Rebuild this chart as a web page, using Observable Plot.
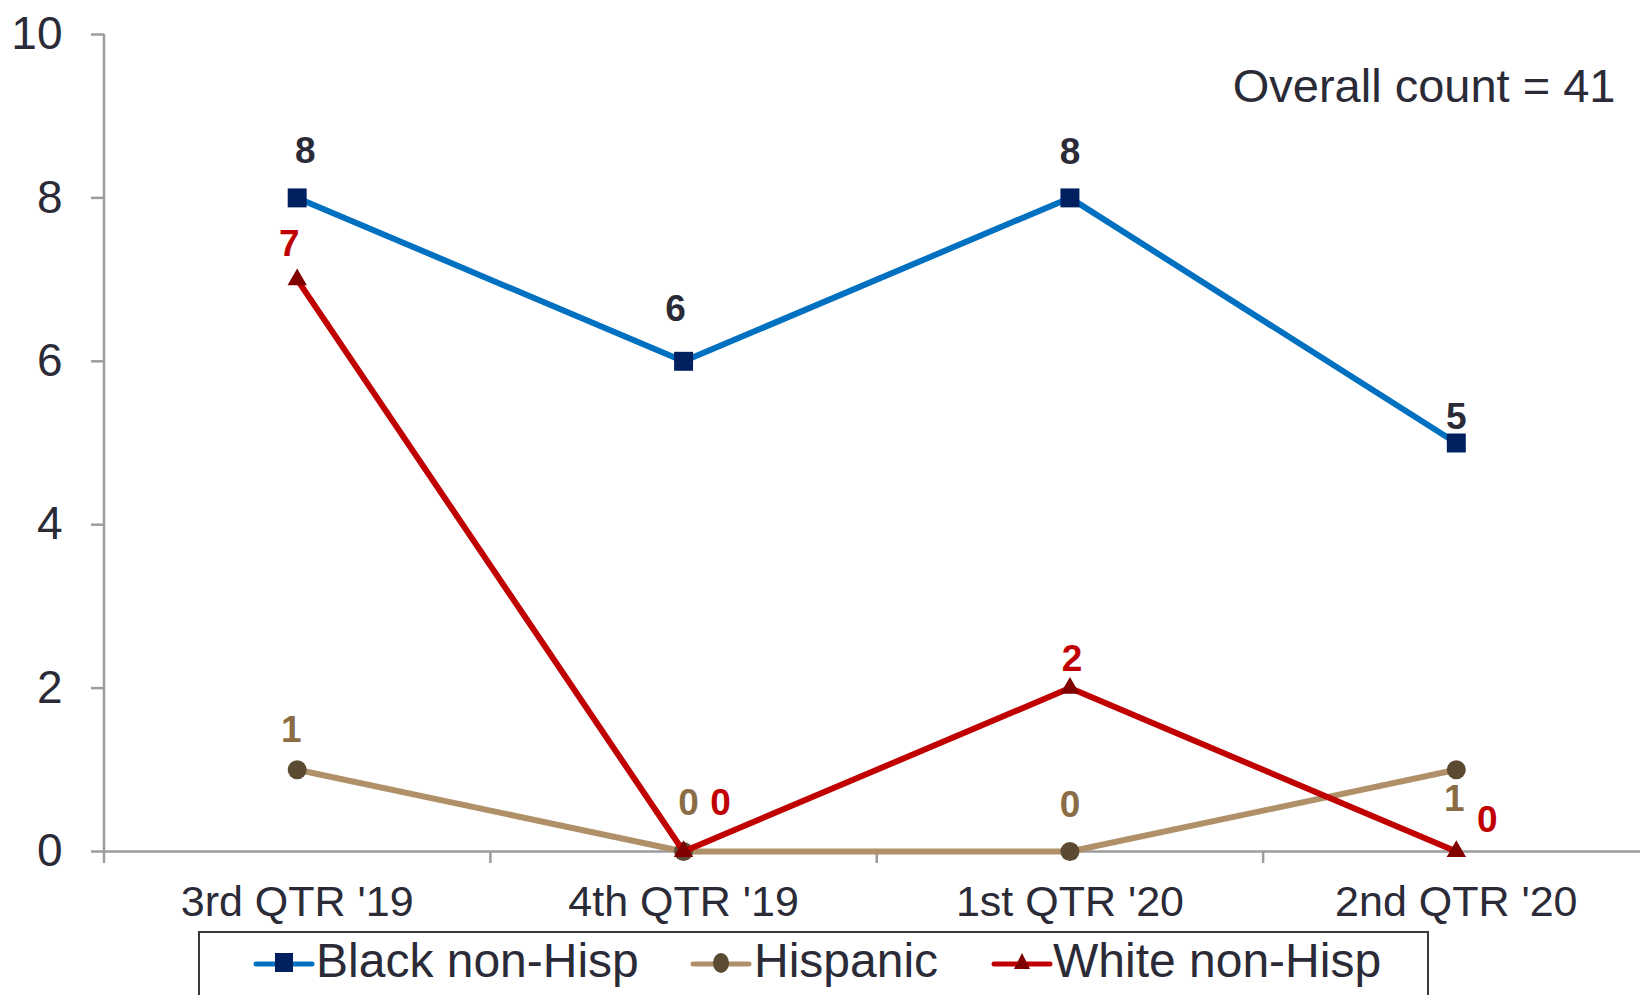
<!DOCTYPE html>
<html>
<head>
<meta charset="utf-8">
<script src="https://cdn.jsdelivr.net/npm/d3@7"></script>
<script src="https://cdn.jsdelivr.net/npm/@observablehq/plot@0.6"></script>
<style>
  html, body { margin: 0; padding: 0; background: #fff; overflow: hidden; width: 1640px; height: 995px; }
  #wrap { position: relative; width: 1640px; height: 995px; font-family: "Liberation Sans", Arial, sans-serif; }
  #legend { position: absolute; left: 198px; top: 931px; width: 1231px; height: 80px; border: 2px solid #3a3a3a; border-bottom: none; box-sizing: border-box; }
  #legend svg { position: absolute; left: 0; top: 0; }
</style>
</head>
<body>
<div id="wrap"><div id="chart"></div><div id="legend"></div></div>
<script>
// ---- data ----
const quarters = ["3rd QTR '19", "4th QTR '19", "1st QTR '20", "2nd QTR '20"];
const seriesNames = ["Black non-Hisp", "Hispanic", "White non-Hisp"];
const blackValues = [8, 6, 8, 5];
const hispanicValues = [1, 0, 0, 1];
const whiteValues = [7, 0, 2, 0];
const yTicks = [0, 2, 4, 6, 8, 10];
const overallNote = "Overall count = 41";

// ---- styles ----
const textColor = "#2b2b38";
const axisGray = "#9c9c9c";
const lineWidth = 6;
const styles = {
  "Black non-Hisp": {line: "#0070c0", marker: "#002060", label: "#2b2b38", symbol: "square", r: 10.7,
    offsets: [[8, -47], [-8, -52], [0, -46], [0, -26]]},
  "Hispanic": {line: "#b09068", marker: "#5c4b33", label: "#8b6d45", symbol: "circle", r: 9.5,
    offsets: [[-6, -40], [5, -48], [0, -46], [-2, 29]]},
  "White non-Hisp": {line: "#c00000", marker: "#800000", label: "#c00000", symbol: "triangle", r: 7.2,
    offsets: [[-8, -35], [37, -48], [2, -29], [31, -31]]}
};

const valuesBySeries = {
  "Black non-Hisp": blackValues,
  "Hispanic": hispanicValues,
  "White non-Hisp": whiteValues
};

const rows = seriesNames.flatMap(s => valuesBySeries[s].map((v, i) => ({series: s, i, quarter: quarters[i], value: v})));

const marks = [];
// axes
marks.push(Plot.ruleY([0], {stroke: axisGray, strokeWidth: 2.5}));
marks.push(Plot.ruleX([-0.5], {y1: 0, y2: 10, stroke: axisGray, strokeWidth: 2.5}));
marks.push(Plot.axisY({ticks: yTicks, tickSize: 13, tickPadding: 29, fontSize: 46, stroke: axisGray, strokeWidth: 2.5, fill: textColor, label: null}));
marks.push(Plot.axisX({ticks: [-0.5, 0.5, 1.5, 2.5], tickSize: 12, tickFormat: () => "", stroke: axisGray, strokeWidth: 2.5, label: null}));
marks.push(Plot.axisX({ticks: quarters.map((q, i) => i), tickSize: 0, tickPadding: 34, tickFormat: i => quarters[i], fontSize: 43, fill: textColor, label: null}));

// series
for (const s of seriesNames) {
  const st = styles[s];
  const data = rows.filter(d => d.series === s);
  marks.push(Plot.line(data, {x: "i", y: "value", stroke: st.line, strokeWidth: lineWidth}));
  marks.push(Plot.dot(data, {x: "i", y: "value", symbol: st.symbol, r: st.r, fill: st.marker, stroke: "none"}));
}
// data labels
for (const s of seriesNames) {
  const st = styles[s];
  rows.filter(d => d.series === s).forEach((d, k) => {
    marks.push(Plot.text([d], {x: "i", y: "value", text: d => String(d.value), fill: st.label,
      fontSize: 37, fontWeight: "bold", dx: st.offsets[k][0], dy: st.offsets[k][1]}));
  });
}
// note
marks.push(Plot.text([overallNote], {frameAnchor: "top-right", lineAnchor: "middle", text: d => d, textAnchor: "end", dx: -25, dy: 52, fontSize: 47, fill: textColor}));

const chart = Plot.plot({
  width: 1640,
  height: 931,
  marginLeft: 104,
  marginRight: 0,
  marginTop: 34,
  marginBottom: 80,
  x: {type: "linear", domain: [-0.5, 3.5], range: [103.5, 1649]},
  y: {domain: [0, 10]},
  style: {fontFamily: "'Liberation Sans', Arial, sans-serif", background: "#fff", overflow: "visible", color: textColor},
  marks
});
document.getElementById("chart").appendChild(chart);

// ---- legend ----
const legendItems = [
  {name: seriesNames[0], lx: 56, tx: 116},
  {name: seriesNames[1], lx: 493, tx: 554},
  {name: seriesNames[2], lx: 794, tx: 853}
];
const lsvg = d3.select("#legend").append("svg").attr("width", 1227).attr("height", 64)
  .style("font-family", "'Liberation Sans', Arial, sans-serif");
for (const it of legendItems) {
  const st = styles[it.name];
  const g = lsvg.append("g");
  g.append("line").attr("x1", it.lx).attr("x2", it.lx + 56).attr("y1", 31).attr("y2", 31)
    .attr("stroke", st.line).attr("stroke-width", 5).attr("stroke-linecap", "round");
  const cx = it.lx + 28;
  if (st.symbol === "square") {
    g.append("rect").attr("x", cx - 9).attr("y", 20).attr("width", 18).attr("height", 19).attr("fill", st.marker);
  } else if (st.symbol === "circle") {
    g.append("ellipse").attr("cx", cx).attr("cy", 30).attr("rx", 8).attr("ry", 10).attr("fill", st.marker);
  } else {
    g.append("path").attr("d", `M${cx},20 L${cx + 8},36 L${cx - 8},36 Z`).attr("fill", st.marker);
  }
  g.append("text").attr("x", it.tx).attr("y", 44).attr("font-size", 48).attr("fill", textColor).text(it.name);
}
</script>
</body>
</html>
